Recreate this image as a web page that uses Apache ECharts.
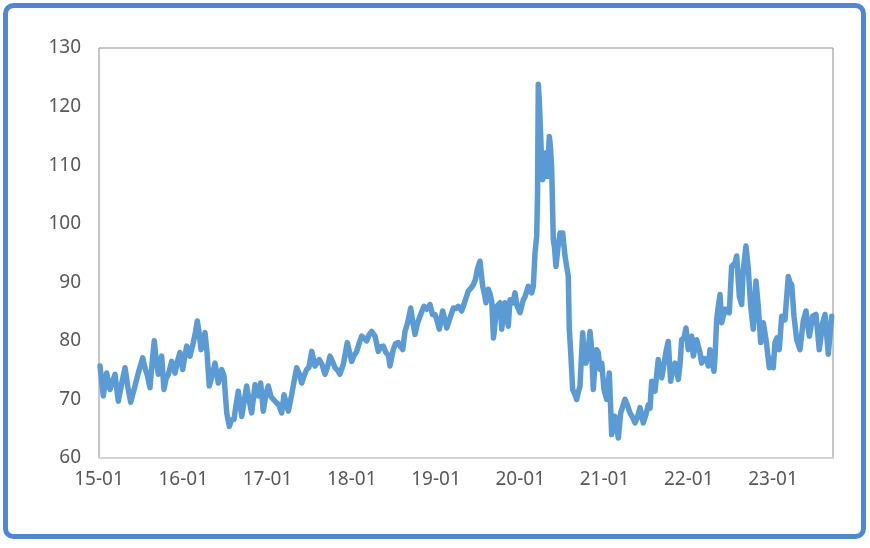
<!DOCTYPE html>
<html>
<head>
<meta charset="utf-8">
<script src="https://cdn.jsdelivr.net/npm/echarts@6/dist/echarts.min.js"></script>
<style>
html,body{margin:0;padding:0;background:#fff;}
#chart{width:870px;height:548px;}
</style>
</head>
<body>
<div id="chart"></div>
<script>
// Observation dates (decimal years)
var dates = [
2015.012,2015.051,2015.091,2015.131,2015.190,2015.229,2015.273,2015.309,2015.344,2015.376,
2015.427,2015.466,2015.519,2015.546,2015.576,2015.605,2015.629,2015.656,2015.677,2015.704,
2015.744,2015.771,2015.795,2015.823,2015.863,2015.902,2015.932,2015.961,2015.993,2016.015,
2016.041,2016.080,2016.119,2016.145,2016.167,2016.187,2016.211,2016.234,2016.258,2016.282,
2016.309,2016.341,2016.377,2016.416,2016.456,2016.484,2016.516,2016.547,2016.573,2016.602,
2016.626,2016.653,2016.694,2016.721,2016.753,2016.780,2016.812,2016.852,2016.891,2016.919,
2016.950,2016.982,2017.009,2017.041,2017.069,2017.109,2017.136,2017.168,2017.196,2017.219,
2017.247,2017.287,2017.314,2017.346,2017.374,2017.406,2017.433,2017.465,2017.492,2017.525,
2017.564,2017.615,2017.647,2017.682,2017.712,2017.742,2017.771,2017.801,2017.831,2017.860,
2017.900,2017.947,2017.999,2018.027,2018.059,2018.086,2018.118,2018.145,2018.177,2018.205,
2018.237,2018.276,2018.315,2018.347,2018.374,2018.406,2018.436,2018.454,2018.493,2018.519,
2018.552,2018.579,2018.605,2018.632,2018.662,2018.700,2018.727,2018.751,2018.780,2018.810,
2018.834,2018.857,2018.889,2018.929,2018.958,2018.988,2019.012,2019.039,2019.059,2019.079,
2019.107,2019.127,2019.166,2019.205,2019.237,2019.265,2019.305,2019.344,2019.383,2019.415,
2019.443,2019.469,2019.490,2019.522,2019.554,2019.575,2019.593,2019.621,2019.641,2019.661,
2019.682,2019.694,2019.720,2019.760,2019.780,2019.795,2019.819,2019.858,2019.878,2019.914,
2019.938,2019.961,2019.997,2020.036,2020.056,2020.095,2020.136,2020.155,2020.175,2020.195,
2020.205,2020.214,2020.226,2020.243,2020.254,2020.266,2020.285,2020.305,2020.321,2020.345,
2020.359,2020.373,2020.392,2020.406,2020.424,2020.448,2020.472,2020.504,2020.531,2020.570,
2020.582,2020.599,2020.622,2020.644,2020.670,2020.685,2020.709,2020.741,2020.756,2020.780,
2020.804,2020.828,2020.845,2020.867,2020.887,2020.907,2020.926,2020.946,2020.967,2020.994,
2021.026,2021.057,2021.085,2021.104,2021.124,2021.164,2021.192,2021.213,2021.243,2021.273,
2021.302,2021.332,2021.362,2021.392,2021.421,2021.460,2021.492,2021.520,2021.540,2021.560,
2021.599,2021.638,2021.659,2021.679,2021.706,2021.730,2021.757,2021.785,2021.813,2021.837,
2021.876,2021.896,2021.916,2021.943,2021.967,2021.994,2022.015,2022.035,2022.054,2022.074,
2022.094,2022.113,2022.133,2022.153,2022.181,2022.213,2022.232,2022.252,2022.272,2022.299,
2022.311,2022.331,2022.347,2022.371,2022.391,2022.410,2022.430,2022.454,2022.481,2022.509,
2022.549,2022.569,2022.600,2022.628,2022.647,2022.679,2022.707,2022.735,2022.766,2022.798,
2022.825,2022.854,2022.885,2022.917,2022.956,2022.976,2023.003,2023.023,2023.047,2023.074,
2023.103,2023.142,2023.181,2023.201,2023.222,2023.249,2023.281,2023.320,2023.359,2023.391,
2023.431,2023.471,2023.510,2023.549,2023.590,2023.617,2023.656,2023.696
];
var values = [
75.7,70.6,74.5,71.7,74.3,69.7,73.0,75.4,72.0,69.5,
72.3,74.5,77.1,75.4,74.0,72.0,76.0,80.0,77.0,74.3,
77.4,71.7,73.5,74.3,76.5,74.5,76.5,78.0,75.1,77.0,
79.1,77.4,79.7,81.5,83.4,81.5,78.5,80.0,81.4,78.0,
72.3,74.0,76.2,72.8,75.1,74.0,67.7,65.4,66.5,66.6,
69.0,71.4,67.1,69.5,72.3,70.0,67.7,72.5,70.6,72.8,
68.0,71.0,72.3,70.5,70.0,69.4,69.0,67.7,70.8,69.5,
68.0,70.8,73.0,75.4,74.5,72.8,74.0,75.1,75.5,78.2,
75.7,76.8,76.0,74.3,75.5,77.4,76.5,75.4,75.0,74.3,
76.0,79.7,76.5,77.5,78.2,79.5,80.8,80.5,80.0,81.0,
81.6,80.8,78.2,79.0,79.1,78.0,77.5,75.7,78.5,79.5,
79.7,79.0,78.5,81.6,83.0,85.6,83.0,81.1,83.0,84.2,
85.1,85.9,85.4,86.2,84.5,84.5,83.5,82.0,83.5,85.1,
83.5,82.2,83.9,85.6,85.5,85.9,85.1,86.8,88.5,89.0,
89.6,90.5,92.2,93.6,89.3,88.0,86.5,88.8,88.0,86.8,
80.5,82.0,85.9,86.5,82.0,84.0,86.5,82.5,87.0,86.5,
88.2,86.0,84.8,87.0,87.5,89.3,88.2,89.3,95.0,97.9,
105.0,123.8,121.0,114.9,110.0,107.5,109.0,112.1,108.1,114.9,
113.0,109.3,97.3,96.0,92.7,96.0,98.4,98.4,94.5,91.0,
82.0,78.0,71.7,71.0,70.0,71.0,72.3,81.4,78.0,76.2,
78.0,81.6,79.0,71.7,76.0,78.5,78.0,75.1,76.2,71.7,
70.0,74.5,64.0,66.0,67.1,63.4,67.7,68.0,70.0,69.0,
67.7,67.0,66.0,67.0,68.6,66.0,67.5,69.1,68.5,73.1,
71.4,76.8,75.0,73.7,76.0,78.2,79.9,73.1,75.5,76.2,
73.4,76.0,80.2,80.5,82.2,78.5,80.2,80.8,77.4,77.4,
80.2,80.5,78.0,76.2,77.0,76.8,75.7,78.5,78.8,74.8,
77.0,83.6,85.5,87.9,83.1,83.1,85.4,85.0,84.8,92.7,
93.3,94.5,87.6,86.2,92.2,96.2,92.2,85.9,82.0,90.2,
85.9,79.7,83.1,80.2,75.4,77.0,75.4,79.7,80.5,78.5,
84.2,83.6,91.0,90.0,89.6,84.2,80.2,78.5,83.4,85.1,
80.8,84.2,84.5,78.5,83.1,84.5,77.7,84.2
];
var yTicks = [60, 70, 80, 90, 100, 110, 120, 130];
var xStart = 2015, xEnd = 2023.712;

var seriesData = dates.map(function (d, i) { return [d, values[i]]; });
var FONT = '"Noto Sans", "Noto Sans CJK SC", sans-serif';

var chart = echarts.init(document.getElementById('chart'), null, {renderer: 'canvas'});
chart.setOption({
  animation: false,
  backgroundColor: '#ffffff',
  grid: {
    left: 99, top: 48, width: 734, height: 410,
    show: true, borderColor: '#8c8c8c', borderWidth: 1, backgroundColor: 'transparent'
  },
  xAxis: {
    type: 'value',
    min: xStart, max: xEnd, interval: 1,
    z: 5,
    axisLine: {show: true, lineStyle: {color: '#d4d4d4', width: 2}},
    axisTick: {show: false},
    splitLine: {show: false},
    axisLabel: {
      showMaxLabel: false,
      fontSize: 19, color: '#595959', fontFamily: FONT, margin: 12,
      formatter: function (v) {
        return Math.abs(v - Math.round(v)) < 1e-6 ? String(Math.round(v)).slice(2) + '-01' : '';
      }
    }
  },
  yAxis: {
    type: 'value',
    min: yTicks[0], max: yTicks[yTicks.length - 1], interval: 10,
    axisLine: {show: false},
    axisTick: {show: false},
    splitLine: {show: false},
    axisLabel: {fontSize: 19, color: '#595959', fontFamily: FONT, margin: 18}
  },
  series: [{
    type: 'line',
    data: seriesData,
    showSymbol: false,
    symbol: 'none',
    lineStyle: {color: '#5b9bd5', width: 5.5, join: 'round', cap: 'round'},
    z: 3
  }],
  graphic: [{
    type: 'rect',
    shape: {x: 5.5, y: 5.5, width: 858, height: 531, r: 8},
    style: {fill: 'none', stroke: '#4f86d6', lineWidth: 5},
    z: 10, silent: true
  }]
});
</script>
</body>
</html>
